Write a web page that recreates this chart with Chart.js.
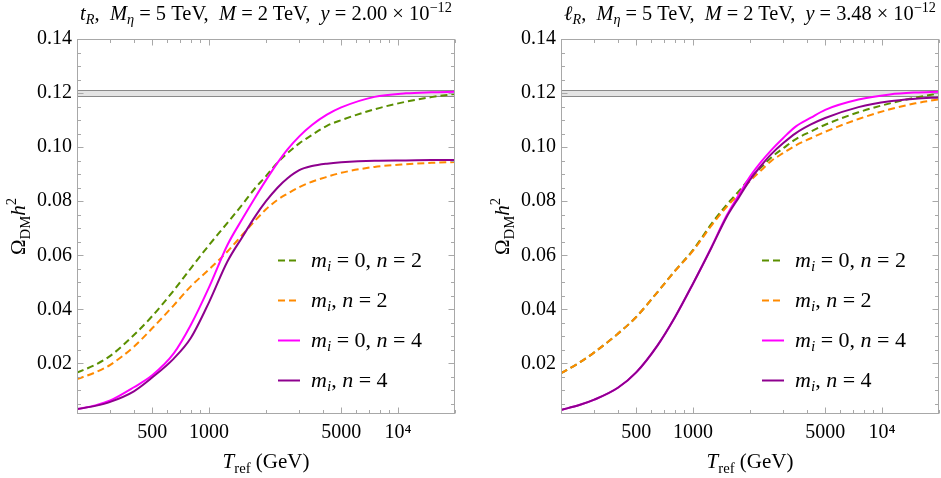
<!DOCTYPE html>
<html>
<head>
<meta charset="utf-8">
<title>Relic abundance vs reference temperature</title>
<script src="https://cdn.jsdelivr.net/npm/chart.js"></script>
<style>
    html, body { margin: 0; padding: 0; background: #fff; }
    #wrap { position: relative; width: 941px; height: 478px; overflow: hidden; }
    canvas { position: absolute; top: 0; }
    .ttl {
        position: absolute; top: 1px; width: 378px; height: 26px; line-height: 24px;
        text-align: center; white-space: nowrap;
        font-family: "Liberation Serif", "DejaVu Serif", serif; font-size: 20px; color: #000;
    }
    .ttl sub, .ttl sup { font-size: 70%; line-height: 0; }
    .ttl sub { vertical-align: -0.25em; }
    .ttl sup { vertical-align: 0.55em; }
</style>
</head>
<body>
<div id="wrap">
    <canvas id="leftPanel" width="470" height="478" style="left:0"></canvas>
    <canvas id="rightPanel" width="471" height="478" style="left:470px"></canvas>
    <div class="ttl" style="left:77px"><span><i>t</i><sub><i>R</i></sub>,&ensp;<i>M</i><sub><i>η</i></sub> = 5 TeV,&ensp;<i>M</i> = 2 TeV,&ensp;<i>y</i> = 2.00 × 10<sup>−12</sup></span></div>
    <div class="ttl" style="left:561px"><span><i>ℓ</i><sub><i>R</i></sub>,&ensp;<i>M</i><sub><i>η</i></sub> = 5 TeV,&ensp;<i>M</i> = 2 TeV,&ensp;<i>y</i> = 3.48 × 10<sup>−12</sup></span></div>
</div>
<script>
const tRef = [200, 250, 300, 400, 500, 650, 800, 1000, 1250, 1500, 1750, 2000, 2300, 2600, 3000, 3500, 4200, 5000, 7500, 11000, 15000, 20000];

// left panel: t_R
const top_m0_n2 = [0.0166, 0.0195, 0.0228, 0.0305, 0.0375, 0.0470, 0.0552, 0.0638, 0.0720, 0.0788, 0.0848, 0.0893, 0.0943, 0.0978, 0.1014, 0.1045, 0.1079, 0.1100, 0.1140, 0.1168, 0.1185, 0.1197];
const top_mi_n2 = [0.0142, 0.0167, 0.0195, 0.0262, 0.0330, 0.0415, 0.0485, 0.0548, 0.0614, 0.0676, 0.0728, 0.0770, 0.0805, 0.0828, 0.0852, 0.0872, 0.0890, 0.0905, 0.0927, 0.0937, 0.0942, 0.0945];
const top_m0_n4 = [0.0031, 0.0045, 0.0063, 0.0112, 0.0156, 0.0237, 0.0342, 0.0482, 0.0638, 0.0735, 0.0813, 0.0878, 0.0942, 0.0992, 0.1040, 0.1082, 0.1120, 0.1147, 0.1186, 0.1199, 0.1203, 0.1205];
const top_mi_n4 = [0.0031, 0.0043, 0.0058, 0.0097, 0.0148, 0.0218, 0.0294, 0.0427, 0.0577, 0.0668, 0.0743, 0.0800, 0.0850, 0.0885, 0.0915, 0.0930, 0.0939, 0.0944, 0.0950, 0.0951, 0.0952, 0.0952];

// right panel: l_R
const lep_m0_n2 = [0.0164, 0.0203, 0.0241, 0.0310, 0.0372, 0.0465, 0.0542, 0.0620, 0.0716, 0.0786, 0.0838, 0.0885, 0.0926, 0.0963, 0.0996, 0.1030, 0.1058, 0.1083, 0.1129, 0.1162, 0.1183, 0.1199];
const lep_mi_n2 = [0.0164, 0.0203, 0.0241, 0.0310, 0.0372, 0.0465, 0.0541, 0.0617, 0.0710, 0.0778, 0.0828, 0.0875, 0.0915, 0.0950, 0.0978, 0.1007, 0.1033, 0.1057, 0.1104, 0.1140, 0.1162, 0.1177];
const lep_m0_n4 = [0.0028, 0.0046, 0.0066, 0.0110, 0.0167, 0.0268, 0.0370, 0.0496, 0.0630, 0.0745, 0.0825, 0.0891, 0.0947, 0.0990, 0.1034, 0.1077, 0.1109, 0.1138, 0.1176, 0.1195, 0.1202, 0.1205];
const lep_mi_n4 = [0.0028, 0.0046, 0.0066, 0.0110, 0.0167, 0.0268, 0.0370, 0.0496, 0.0628, 0.0740, 0.0815, 0.0879, 0.0933, 0.0975, 0.1015, 0.1052, 0.1084, 0.1108, 0.1148, 0.1170, 0.1179, 0.1184];

// observed relic density band
const bandLow = 0.1188;
const bandHigh = 0.1212;

// axis ticks
const xTickVals = [500, 1000, 5000, 10000];
const xMinorVals = [200, 300, 400, 600, 700, 800, 900, 2000, 3000, 4000, 6000, 7000, 8000, 9000, 20000];
const yTickVals = [0.02, 0.04, 0.06, 0.08, 0.10, 0.12, 0.14];
const yMinorVals = [0.005, 0.01, 0.015, 0.025, 0.03, 0.035, 0.045, 0.05, 0.055, 0.065, 0.07, 0.075,
                    0.085, 0.09, 0.095, 0.105, 0.11, 0.115, 0.125, 0.13, 0.135];

const FONT = '"Liberation Serif", "DejaVu Serif", serif';
const GREEN = '#5a8f00';
const ORANGE = '#ff8a00';
const MAGENTA = '#ff00ff';
const PURPLE = '#8e008e';
const FRAME = '#a8a8a8';

// little helpers for math-like text: [text, italic, 'sub'|'sup'|null]
const it = t => [t, true, null];
const rm = t => [t, false, null];
const sub = (t, i) => [t, !!i, 'sub'];
const sup = t => [t, false, 'sup'];

function segFont(seg, size) {
    const s = seg[2] ? size * 0.7 : size;
    return (seg[1] ? 'italic ' : '') + s + 'px ' + FONT;
}

function drawRich(ctx, segs, x, y, size, align) {
    let w = 0;
    segs.forEach(seg => { ctx.font = segFont(seg, size); w += ctx.measureText(seg[0]).width; });
    let cx = align === 'center' ? x - w / 2 : x;
    ctx.textAlign = 'left';
    ctx.textBaseline = 'alphabetic';
    segs.forEach(seg => {
        ctx.font = segFont(seg, size);
        const dy = seg[2] === 'sub' ? size * 0.22 : seg[2] === 'sup' ? -size * 0.42 : 0;
        ctx.fillText(seg[0], cx, y + dy);
        cx += ctx.measureText(seg[0]).width;
    });
}

const legendLabels = [
    [it('m'), sub('i', true), rm(' = 0, '), it('n'), rm(' = 2')],
    [it('m'), sub('i', true), rm(', '), it('n'), rm(' = 2')],
    [it('m'), sub('i', true), rm(' = 0, '), it('n'), rm(' = 4')],
    [it('m'), sub('i', true), rm(', '), it('n'), rm(' = 4')]
];
const legendStyles = [
    { color: GREEN, dash: true },
    { color: ORANGE, dash: true },
    { color: MAGENTA, dash: false },
    { color: PURPLE, dash: false }
];

// band, frame, ticks, axis titles and legend
const panelDecor = {
    id: 'panelDecor',
    beforeDatasetsDraw(chart) {
        const { ctx, chartArea: a, scales: { y } } = chart;
        const yt = Math.round(y.getPixelForValue(bandHigh)) + 0.5;
        const yb = Math.round(y.getPixelForValue(bandLow)) + 0.5;
        ctx.save();
        ctx.fillStyle = '#e4e4e4';
        ctx.fillRect(a.left, yt, a.right - a.left, yb - yt);
        ctx.strokeStyle = '#8a8a8a';
        ctx.lineWidth = 1;
        ctx.beginPath();
        ctx.moveTo(a.left, yt); ctx.lineTo(a.right, yt);
        ctx.moveTo(a.left, yb); ctx.lineTo(a.right, yb);
        ctx.stroke();
        ctx.restore();
    },
    afterDatasetsDraw(chart) {
        const { ctx, chartArea: a, scales: { x, y } } = chart;
        const L = Math.round(a.left) + 0.5, R = Math.round(a.right) - 0.5;
        const T = Math.round(a.top) + 0.5, B = Math.round(a.bottom) - 0.5;
        ctx.save();
        ctx.strokeStyle = FRAME;
        ctx.lineWidth = 1;
        ctx.strokeRect(L, T, R - L, B - T);
        ctx.beginPath();
        const xt = (v, len) => {
            const px = Math.round(x.getPixelForValue(v)) + 0.5;
            ctx.moveTo(px, B); ctx.lineTo(px, B - len);
            ctx.moveTo(px, T); ctx.lineTo(px, T + len);
        };
        const yt = (v, len) => {
            const py = Math.round(y.getPixelForValue(v)) + 0.5;
            ctx.moveTo(L, py); ctx.lineTo(L + len, py);
            ctx.moveTo(R, py); ctx.lineTo(R - len, py);
        };
        xTickVals.forEach(v => xt(v, 6));
        xMinorVals.forEach(v => xt(v, 3.5));
        yTickVals.forEach(v => yt(v, 6));
        yMinorVals.forEach(v => yt(v, 3.5));
        ctx.stroke();
        ctx.restore();
    },
    afterDraw(chart) {
        const { ctx, chartArea: a } = chart;
        const cx = (a.left + a.right) / 2;
        ctx.save();
        ctx.fillStyle = '#000';
        drawRich(ctx, [it('T'), sub('ref'), rm(' (GeV)')], cx, 468, 21, 'center');

        ctx.save();
        ctx.translate(a.left - 52, (a.top + a.bottom) / 2);
        ctx.rotate(-Math.PI / 2);
        drawRich(ctx, [rm('Ω'), sub('DM'), it('h'), sup('2')], 0, 0, 21, 'center');
        ctx.restore();

        // legend inside the plot
        legendStyles.forEach((st, k) => {
            const ry = a.top + 221.5 + 40 * k;
            const x0 = a.left + 201;
            ctx.strokeStyle = st.color;
            ctx.lineWidth = 2;
            ctx.setLineDash(st.dash ? [7, 4] : []);
            ctx.beginPath();
            ctx.moveTo(x0, ry); ctx.lineTo(x0 + 22, ry);
            ctx.stroke();
            ctx.setLineDash([]);
            drawRich(ctx, legendLabels[k], x0 + 33, ry + 6, 22, 'left');
        });
        ctx.restore();
    }
};

function makePanel(canvasId, series, padLeft, padRight) {
    const datasets = series.map(s => ({
        data: tRef.map((t, i) => ({ x: t, y: s.values[i] })),
        borderColor: s.color,
        borderWidth: 2,
        borderDash: s.dash ? [7, 4] : [],
        pointRadius: 0,
        cubicInterpolationMode: 'monotone',
        fill: false
    }));
    const tickFont = { family: FONT, size: 20 };
    return new Chart(document.getElementById(canvasId), {
        type: 'line',
        // reversed so the last curve ends up on top, like in the figure
        data: { datasets: datasets.slice().reverse() },
        options: {
            responsive: false,
            animation: false,
            layout: { padding: { left: padLeft, right: padRight, top: 39, bottom: 34 } },
            plugins: { legend: { display: false }, tooltip: { enabled: false } },
            scales: {
                x: {
                    type: 'logarithmic',
                    min: 200,
                    max: 20000,
                    grid: { display: false, drawTicks: false },
                    border: { display: false },
                    afterBuildTicks: s => { s.ticks = xTickVals.map(v => ({ value: v })); },
                    afterFit: s => { s.height = 30; },
                    ticks: {
                        padding: 7, color: '#000', font: tickFont, maxRotation: 0, autoSkip: false,
                        callback: v => v === 10000 ? '10⁴' : String(v)
                    }
                },
                y: {
                    min: 0.0013,
                    max: 0.14,
                    grid: { display: false, drawTicks: false },
                    border: { display: false },
                    afterBuildTicks: s => { s.ticks = yTickVals.map(v => ({ value: v })); },
                    afterFit: s => { s.width = 60; },
                    ticks: { padding: 5, color: '#000', font: tickFont, callback: v => v.toFixed(2) }
                }
            }
        },
        plugins: [panelDecor]
    });
}

function drawAll() {
    // titles: scale so each one spans about the plot width, as in the figure
    document.querySelectorAll('.ttl span').forEach(sp => {
        const w = sp.getBoundingClientRect().width;
        if (w > 0) sp.parentNode.style.fontSize = (20 * 372 / w).toFixed(2) + 'px';
    });

    makePanel('leftPanel', [
        { values: top_m0_n2, color: GREEN, dash: true },
        { values: top_mi_n2, color: ORANGE, dash: true },
        { values: top_m0_n4, color: MAGENTA, dash: false },
        { values: top_mi_n4, color: PURPLE, dash: false }
    ], 17, 15);

    makePanel('rightPanel', [
        { values: lep_m0_n2, color: GREEN, dash: true },
        { values: lep_mi_n2, color: ORANGE, dash: true },
        { values: lep_m0_n4, color: MAGENTA, dash: false },
        { values: lep_mi_n4, color: PURPLE, dash: false }
    ], 31, 2);
}

// make sure the serif faces are ready before anything is measured or painted
Promise.all([
    document.fonts.load('20px "Liberation Serif"'),
    document.fonts.load('italic 20px "Liberation Serif"')
]).then(drawAll, drawAll);
</script>
</body>
</html>
